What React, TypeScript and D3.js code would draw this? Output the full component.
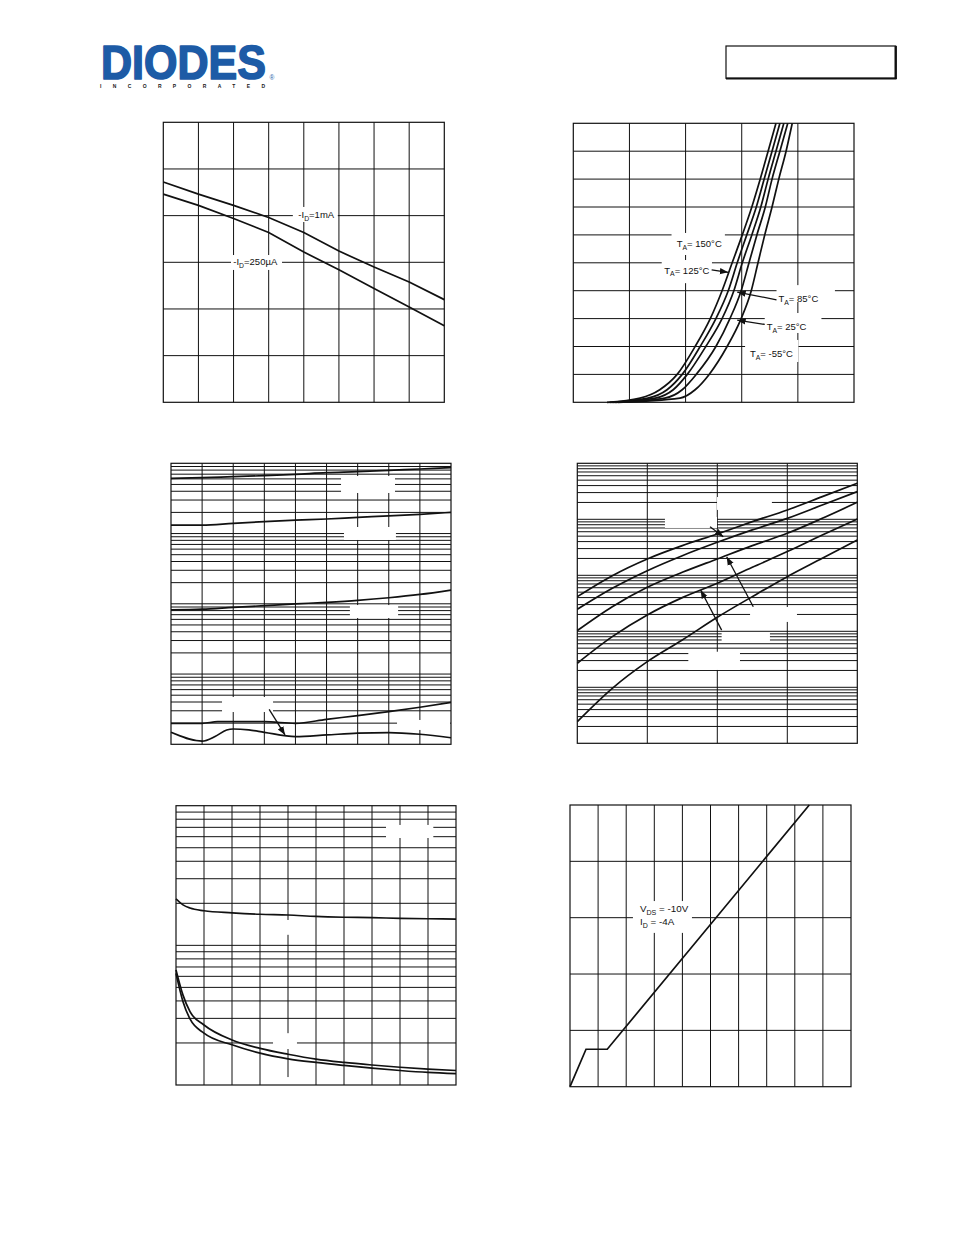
import * as d3 from 'd3';
import type { ReactNode } from 'react';

const FONT = '"Liberation Sans", Arial, Helvetica, sans-serif';

// panel 1: gate threshold voltage vs ambient temperature
const vthTemps = [-50, -25, 0, 25, 50, 75, 100, 125, 150];
const vthId1mA = [2.36, 2.23, 2.11, 1.98, 1.82, 1.62, 1.45, 1.29, 1.1];
const vthId250uA = [2.23, 2.11, 1.97, 1.82, 1.61, 1.42, 1.22, 1.02, 0.82];

// panel 2: transfer characteristics, -VGS needed for each -ID
const transferId = [0, 0.3, 0.9, 2, 4, 6, 8, 10, 12, 14, 16, 18, 20];
const transferVgs150 = [0.6, 1.19, 1.54, 1.85, 2.17, 2.44, 2.65, 2.83, 3.01, 3.18, 3.33, 3.47, 3.61];
const transferVgs125 = [0.65, 1.33, 1.67, 1.94, 2.26, 2.54, 2.76, 2.92, 3.09, 3.26, 3.4, 3.54, 3.68];
const transferVgs85 = [0.7, 1.46, 1.78, 2.03, 2.36, 2.65, 2.86, 3.01, 3.18, 3.34, 3.47, 3.61, 3.75];
const transferVgs25 = [0.75, 1.63, 1.94, 2.19, 2.54, 2.79, 2.99, 3.13, 3.27, 3.42, 3.54, 3.68, 3.82];
const transferVgsM55 = [0.8, 1.9, 2.17, 2.42, 2.74, 2.99, 3.17, 3.29, 3.41, 3.54, 3.66, 3.79, 3.9];

// panel 3: leakage current vs drain voltage (log)
const leakV = [0, 2, 4, 6, 8, 10, 12, 14, 16, 18];
const leak150 = [6.1, 6.25, 6.46, 6.67, 6.97, 7.36, 7.6, 7.94, 8.3, 8.67];
const leak125 = [1.32, 1.32, 1.4, 1.48, 1.55, 1.61, 1.7, 1.78, 1.88, 2.0];
const leak85 = [0.082, 0.084, 0.089, 0.094, 0.0995, 0.105, 0.112, 0.122, 0.136, 0.157];
const leak25V = [0, 2, 3, 4, 6, 8, 10, 12, 14, 16, 18];
const leak25 = [0.00199, 0.00199, 0.0021, 0.0021, 0.0021, 0.00199, 0.00227, 0.00256, 0.00292, 0.00337, 0.00396];
const leakM55V = [0, 2, 2.83, 3.58, 4, 5, 6, 8, 10, 12, 14, 16, 18];
const leakM55 = [0.00148, 0.00111, 0.00129, 0.0016, 0.00165, 0.0016, 0.00148, 0.00129, 0.00136, 0.00144, 0.00147, 0.00139, 0.00124];

// panel 4: log curves, five temperatures
const p4X = [0, 2.5, 5, 7.5, 10, 12.5, 15, 17.5, 20];
const p4C1 = [4.16, 9.86, 19.6, 33.9, 54.7, 90.8, 147, 254, 440];
const p4C2 = [2.47, 5.86, 12.1, 22.4, 38.8, 64.6, 104, 180, 312];
const p4C3 = [1.03, 2.75, 6.11, 11.3, 19.6, 33.9, 56.2, 104, 201];
const p4C4 = [0.269, 0.804, 1.96, 3.99, 7.19, 13.9, 26.5, 52.5, 101];
const p4C5 = [0.0244, 0.0959, 0.287, 0.7, 1.78, 4.16, 9.46, 20.1, 42.8];

// panel 5: capacitance vs drain voltage
const capV = [0, 0.5, 1, 2, 4, 6, 8, 10, 12, 14, 16, 18, 20];
const ciss = [215, 195, 185, 177, 171, 167, 165, 161, 159, 158, 156, 155, 154];
const coss = [66.7, 44, 33.5, 26.9, 21, 18.3, 16.6, 15.3, 14.5, 13.9, 13.4, 13.0, 12.7];
const crss = [63, 39.5, 29.7, 23.5, 19.4, 16.9, 15.4, 14.5, 13.8, 13.2, 12.7, 12.3, 12.05];

// panel 6: gate charge
const gateQ = [0, 1.14, 2.65, 17.03];
const gateV = [0, 1.33, 1.33, 10];

// white patches left where labels sat, [x0, y0, x1, y1] in data units
const covers1: Cover[] = [[42.2, 1.932, 74.2, 2.093], [-1.8, 1.418, 34.5, 1.578]];
const covers2: Cover[] = [
  [1.75, 10.56, 2.7, 12.14],
  [1.575, 8.54, 2.47, 10.2],
  [3.62, 7.19, 4.66, 8.4],
  [3.41, 4.97, 4.42, 6.4],
  [3.06, 2.89, 4.01, 4.47],
];
const covers3: Cover[] = [
  [10.93, 3.78, 14.4, 6.59],
  [11.12, 0.81, 14.46, 1.24],
  [11.5, 0.0628, 14.6, 0.096],
  [3.28, 0.00288, 6.56, 0.00471],
  [14.53, 0.0016, 17.94, 0.00222],
];
const covers4: Cover[] = [
  [9.98, 147, 13.9, 250],
  [6.26, 70, 9.98, 110],
  [12.34, 1.47, 15.69, 2.72],
  [10.31, 0.644, 13.76, 0.933],
  [7.93, 0.204, 11.62, 0.432],
];
const covers5: Cover[] = [
  [15, 587, 18.38, 728],
  [7.71, 119, 8.29, 152],
  [6.93, 18.1, 8.64, 23.5],
  [7.71, 10, 8.29, 11.4],
];
const covers6: Cover[] = [[4.48, 5.46, 8.68, 6.59]];

// arrows, [fromX, fromY, toX, toY] in data units
const arrows2 = [
  [2.464, 9.49, 2.76, 9.32],
  [3.62, 7.35, 2.92, 7.9],
  [3.41, 5.58, 2.92, 5.89],
];
const arrows3 = [[6.31, 0.00315, 7.33, 0.00136]];
const arrows4 = [
  [9.48, 73.8, 10.43, 48.9],
  [12.57, 2.75, 10.67, 21.5],
  [10.31, 1.05, 8.81, 5.46],
];

type Cover = [number, number, number, number];
type Scale = (v: number) => number;

function Panel({
  x,
  y,
  xLines,
  yLines,
  covers,
  children,
}: {
  x: d3.ScaleLinear<number, number>;
  y: d3.ScaleLinear<number, number> | d3.ScaleLogarithmic<number, number>;
  xLines: number[];
  yLines: number[];
  covers: Cover[];
  children?: ReactNode;
}) {
  const [x0, x1] = x.range();
  const [yb, yt] = y.range();
  return (
    <g>
      {xLines.map((v) => (
        <line key={'x' + v} x1={x(v)} x2={x(v)} y1={yt} y2={yb} stroke="#111" strokeWidth={1} />
      ))}
      {yLines.map((v) => (
        <line key={'y' + v} x1={x0} x2={x1} y1={y(v)} y2={y(v)} stroke="#111" strokeWidth={1} />
      ))}
      {covers.map((c, i) => {
        const ax = x(c[0]);
        const bx = x(c[2]);
        const ay = y(c[1]);
        const by = y(c[3]);
        return (
          <rect
            key={i}
            x={Math.min(ax, bx)}
            y={Math.min(ay, by)}
            width={Math.abs(bx - ax)}
            height={Math.abs(by - ay)}
            fill="#fff"
          />
        );
      })}
      {children}
      <rect x={x0} y={yt} width={x1 - x0} height={yb - yt} fill="none" stroke="#111" strokeWidth={1.2} />
    </g>
  );
}

function Curve({
  x,
  y,
  xs,
  ys,
  curve = d3.curveLinear,
}: {
  x: Scale;
  y: Scale;
  xs: number[];
  ys: number[];
  curve?: d3.CurveFactory;
}) {
  const line = d3
    .line<number>()
    .x((_, i) => x(xs[i]))
    .y((d) => y(d))
    .curve(curve);
  return <path d={line(ys) ?? ''} fill="none" stroke="#111" strokeWidth={1.7} />;
}

function Arrows({ x, y, list }: { x: Scale; y: Scale; list: number[][] }) {
  return (
    <>
      {list.map((a, i) => (
        <line
          key={i}
          x1={x(a[0])}
          y1={y(a[1])}
          x2={x(a[2])}
          y2={y(a[3])}
          stroke="#111"
          strokeWidth={1.3}
          markerEnd="url(#arrowhead)"
        />
      ))}
    </>
  );
}

function Label({
  x,
  y,
  main,
  sub,
  rest,
  size = 9.5,
}: {
  x: number;
  y: number;
  main: string;
  sub: string;
  rest: string;
  size?: number;
}) {
  return (
    <text x={x} y={y} fontFamily={FONT} fontSize={size} fill="#111">
      {main}
      <tspan dy={2.6} fontSize={size * 0.72}>
        {sub}
      </tspan>
      <tspan dy={-2.6}>{rest}</tspan>
    </text>
  );
}

function ThresholdChart() {
  const x = d3.scaleLinear().domain([-50, 150]).range([163.3, 444.3]);
  const y = d3.scaleLinear().domain([0, 3]).range([402.3, 122.3]);
  return (
    <Panel x={x} y={y} xLines={d3.range(-25, 150, 25)} yLines={[0.5, 1, 1.5, 2, 2.5]} covers={covers1}>
      <Curve x={x} y={y} xs={vthTemps} ys={vthId1mA} />
      <Curve x={x} y={y} xs={vthTemps} ys={vthId250uA} />
      <Label x={x(46.1)} y={y(1.975)} main="-I" sub="D" rest="=1mA" />
      <Label x={x(-0.2)} y={y(1.466)} main="-I" sub="D" rest="=250µA" />
    </Panel>
  );
}

function TransferChart() {
  const x = d3.scaleLinear().domain([0, 5]).range([573.3, 854]);
  const y = d3.scaleLinear().domain([0, 20]).range([402.3, 123.3]);
  const series = [transferVgs150, transferVgs125, transferVgs85, transferVgs25, transferVgsM55];
  return (
    <Panel x={x} y={y} xLines={[1, 2, 3, 4]} yLines={d3.range(2, 20, 2)} covers={covers2}>
      {series.map((s, i) => (
        <Curve key={i} x={x} y={y} xs={s} ys={transferId} curve={d3.curveMonotoneX} />
      ))}
      <Arrows x={x} y={y} list={arrows2} />
      <Label x={x(1.842)} y={y(11.13)} main="T" sub="A" rest="= 150°C" />
      <Label x={x(1.621)} y={y(9.23)} main="T" sub="A" rest="= 125°C" />
      <Label x={x(3.655)} y={y(7.19)} main="T" sub="A" rest="= 85°C" />
      <Label x={x(3.445)} y={y(5.18)} main="T" sub="A" rest="= 25°C" />
      <Label x={x(3.147)} y={y(3.25)} main="T" sub="A" rest="= -55°C" />
    </Panel>
  );
}

function LeakageChart() {
  const x = d3.scaleLinear().domain([0, 18]).range([171, 451]);
  const y = d3.scaleLog().domain([1e-3, 10]).range([744.3, 463.3]);
  const lines = y.ticks().filter((t) => t > 1e-3 * 1.001 && t < 10 * 0.999);
  return (
    <Panel x={x} y={y} xLines={d3.range(2, 18, 2)} yLines={lines} covers={covers3}>
      <Curve x={x} y={y} xs={leakV} ys={leak150} curve={d3.curveMonotoneX} />
      <Curve x={x} y={y} xs={leakV} ys={leak125} curve={d3.curveMonotoneX} />
      <Curve x={x} y={y} xs={leakV} ys={leak85} curve={d3.curveMonotoneX} />
      <Curve x={x} y={y} xs={leak25V} ys={leak25} curve={d3.curveMonotoneX} />
      <Curve x={x} y={y} xs={leakM55V} ys={leakM55} curve={d3.curveMonotoneX} />
      <Arrows x={x} y={y} list={arrows3} />
    </Panel>
  );
}

function LogCurvesChart() {
  const x = d3.scaleLinear().domain([0, 20]).range([577.3, 857.3]);
  const y = d3.scaleLog().domain([1e-2, 1e3]).range([743.3, 463.3]);
  const lines = y.ticks().filter((t) => t > 1e-2 * 1.001 && t < 1e3 * 0.999);
  const series = [p4C1, p4C2, p4C3, p4C4, p4C5];
  return (
    <Panel x={x} y={y} xLines={[5, 10, 15]} yLines={lines} covers={covers4}>
      {series.map((s, i) => (
        <Curve key={i} x={x} y={y} xs={p4X} ys={s} curve={d3.curveMonotoneX} />
      ))}
      <Arrows x={x} y={y} list={arrows4} />
    </Panel>
  );
}

function CapacitanceChart() {
  const x = d3.scaleLinear().domain([0, 20]).range([176, 456]);
  const y = d3.scaleLog().domain([10, 1000]).range([1085, 805.7]);
  const lines = y.ticks().filter((t) => t > 10.01 && t < 999);
  return (
    <Panel x={x} y={y} xLines={d3.range(2, 20, 2)} yLines={lines} covers={covers5}>
      <Curve x={x} y={y} xs={capV} ys={ciss} curve={d3.curveMonotoneX} />
      <Curve x={x} y={y} xs={capV} ys={coss} curve={d3.curveMonotoneX} />
      <Curve x={x} y={y} xs={capV} ys={crss} curve={d3.curveMonotoneX} />
    </Panel>
  );
}

function GateChargeChart() {
  const x = d3.scaleLinear().domain([0, 20]).range([570, 851]);
  const y = d3.scaleLinear().domain([0, 10]).range([1086.7, 805]);
  return (
    <Panel x={x} y={y} xLines={d3.range(2, 20, 2)} yLines={[2, 4, 6, 8]} covers={covers6}>
      <Curve x={x} y={y} xs={gateQ} ys={gateV} />
      <Label x={x(4.98)} y={y(6.2)} main="V" sub="DS" rest=" = -10V" size={9.8} />
      <Label x={x(4.98)} y={y(5.74)} main="I" sub="D" rest=" = -4A" size={9.8} />
    </Panel>
  );
}

function Header() {
  return (
    <g>
      {/* logo word: natural width ~165px at this size, stretched upward to full height */}
      <g transform="translate(101,78.5) scale(1,1.12)">
        <text
          x={0}
          y={0}
          fontFamily={FONT}
          fontWeight={700}
          fontSize={43}
          fill="#1d5ba6"
          stroke="#1d5ba6"
          strokeWidth={1.5}
          strokeLinejoin="round"
        >
          DIODES
        </text>
      </g>
      <text x={269.5} y={80} fontFamily={FONT} fontSize={6.5} fill="#1d5ba6">
        ®
      </text>
      <text
        x={100}
        y={88}
        fontFamily={FONT}
        fontWeight={700}
        fontSize={5}
        fill="#222"
        textLength={165}
        lengthAdjust="spacing"
      >
        INCORPORATED
      </text>
      <rect x={726} y={46} width={169.7} height={32.3} fill="none" stroke="#111" strokeWidth={1.2} />
      <line x1={895.7} y1={46} x2={895.7} y2={79} stroke="#111" strokeWidth={2.4} />
      <line x1={726} y1={78.5} x2={896.5} y2={78.5} stroke="#111" strokeWidth={1.8} />
    </g>
  );
}

export default function App() {
  return (
    <svg
      width={954}
      height={1235}
      viewBox="0 0 954 1235"
      style={{ position: 'absolute', left: 0, top: 0, background: '#fff' }}
    >
      <defs>
        <marker
          id="arrowhead"
          viewBox="0 0 10 10"
          refX={10}
          refY={5}
          markerWidth={6.5}
          markerHeight={6.5}
          orient="auto"
        >
          <path d="M0,1.2 L10,5 L0,8.8 z" fill="#111" />
        </marker>
      </defs>
      <rect x={0} y={0} width={954} height={1235} fill="#fff" />
      <Header />
      <ThresholdChart />
      <TransferChart />
      <LeakageChart />
      <LogCurvesChart />
      <CapacitanceChart />
      <GateChargeChart />
    </svg>
  );
}
